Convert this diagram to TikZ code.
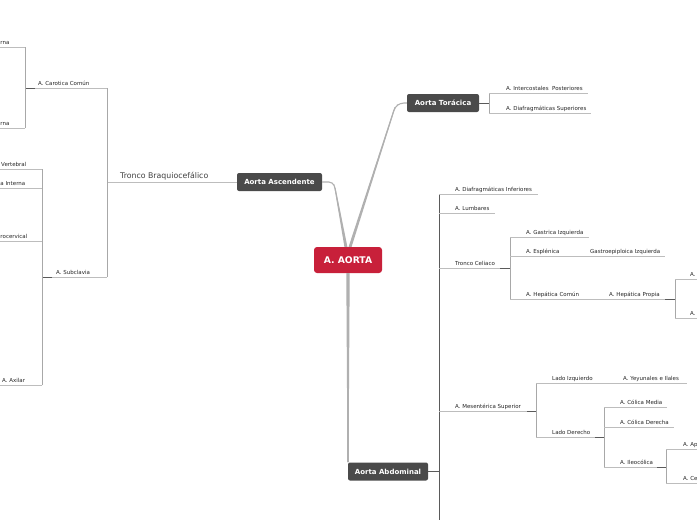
\documentclass[tikz,border=0pt]{standalone}
\usepackage{fontspec}
\setmainfont{DejaVu Sans}
\usetikzlibrary{calc,positioning}
\definecolor{hubgray}{HTML}{4A4A4A}
\definecolor{aortared}{HTML}{C8203A}
\definecolor{twiggray}{HTML}{BDBDBD}
\definecolor{stemgray}{HTML}{A8A8A8}
\definecolor{stubgray}{HTML}{5A5A5A}
\definecolor{trunkgray}{HTML}{B0B0B0}

\tikzset{
  hub/.style={rounded corners=2pt,fill=hubgray,text=white,font=\bfseries\fontsize{7}{8}\selectfont,minimum height=18pt,inner sep=2pt},
  root/.style={rounded corners=3pt,fill=aortared,text=white,font=\bfseries\fontsize{9.2}{10}\selectfont,minimum width=68pt,minimum height=26pt},
  lbl/.style={anchor=base west,inner sep=0pt,font=\fontsize{5.5}{6}\selectfont,text=black!85},
  twig/.style={draw=twiggray,line width=0.7pt},
  stem/.style={draw=stemgray,line width=0.8pt},
  stub/.style={draw=stubgray,line width=0.9pt},
  trunk/.style={draw=trunkgray,line width=1.1pt,rounded corners=4pt},
  taper/.style={fill=trunkgray},
}

\begin{document}
\begin{tikzpicture}[x=1pt,y=-1pt]
  \useasboundingbox (0,0) rectangle (697,520);
  \fill[white] (0,0) rectangle (697,520);

  % main nodes
  \node[root] (aorta) at (348,260) {A. AORTA};
  \node[hub,minimum width=85pt] (asc) at (279.5,182) {Aorta Ascendente};
  \node[hub,minimum width=72pt] (tor) at (443,103) {Aorta Torácica};
  \node[hub,minimum width=80pt] (abd) at (388,471.5) {Aorta Abdominal};

  % root connectors
  \coordinate (ab) at (335,188);
  \coordinate (tb) at (395,107);
  \draw[trunk] ($(aorta.north)+(-2,0)$) -- (ab) -- (333,182) -- (asc.east);
  \fill[taper] ($(aorta.north)+(-3.6,0)$) -- ($(aorta.north)+(-0.6,0)$) -- ($(ab)+(0.5,0)$) -- ($(ab)+(-0.5,0)$) -- cycle;
  \draw[trunk] ($(aorta.north)+(2,0)$) -- (tb) -- (400,103) -- (tor.west);
  \fill[taper] ($(aorta.north)+(0.6,0)$) -- ($(aorta.north)+(3.6,0)$) -- ($(tb)+(0.5,0)$) -- ($(tb)+(-0.5,0)$) -- cycle;
  \draw[trunk] (aorta.south) -- (aorta.south |- abd.north);
  \fill[taper] ($(aorta.south)+(-1.7,0)$) -- ($(aorta.south)+(1.7,0)$) -- ($(aorta.south |- abd.north)+(0.55,0)$) -- ($(aorta.south |- abd.north)+(-0.55,0)$) -- cycle;

  % Aorta Toracica
  \coordinate (tj) at (489,103);
  \draw[stub] (tor.east) -- (tj);
  \draw[stem] (489,93) -- (489,113);
  \draw[twig] (489,93) -- (588,93);
  \draw[twig] (489,113) -- (591,113);
  \node[lbl] (icp) at (506,90) {A. Intercostales\ \ Posteriores};
  \node[lbl] (dfs) at (506,110) {A. Diafragmáticas Superiores};

  % Aorta Abdominal
  \coordinate (aj) at (439,471.5);
  \draw[stub] (abd.east) -- (aj);
  \draw[stub,line width=0.8pt] (439,194) -- (439,520);
  \draw[twig] (439,194) -- (538,194);
  \node[lbl] (dfi) at (455,191) {A. Diafragmáticas Inferiores};
  \draw[twig] (439,213) -- (495,213);
  \node[lbl] (lum) at (455,210) {A. Lumbares};

  % Tronco Celiaco
  \draw[twig] (439,268) -- (500,268);
  \draw[stub] (500,268) -- (510,268);
  \node[lbl] (tce) at (455,265) {Tronco Celiaco};
  \draw[stem] (510,237) -- (510,299);
  \draw[twig] (510,237) -- (589,237);
  \node[lbl] (gaz) at (526,234) {A. Gastrica Izquierda};
  \draw[twig] (510,256) -- (665,256);
  \node[lbl] (esp) at (526,253) {A. Esplénica};
  \node[lbl] (gep) at (590,253) {Gastroepiploica Izquierda};
  \draw[twig] (510,299) -- (665,299);
  \draw[stub] (665,299) -- (675,299);
  \node[lbl] (hco) at (526,296) {A. Hepática Común};
  \node[lbl] (hpr) at (609,296) {A. Hepática Propia};
  \draw[stem] (675,279) -- (675,318);
  \draw[twig] (675,279) -- (697,279);
  \draw[twig] (675,318) -- (697,318);
  \node[lbl] (hp1) at (690,276) {A.};
  \node[lbl] (hp2) at (690,315) {A.};

  % Mesenterica Superior
  \draw[twig] (439,411) -- (527,411);
  \draw[stub] (527,411) -- (536,411);
  \node[lbl] (mes) at (455,408) {A. Mesentérica Superior};
  \draw[stem] (536,383) -- (536,437);
  \draw[twig] (536,383) -- (687,383);
  \node[lbl] (liz) at (552,380) {Lado Izquierdo};
  \node[lbl] (yey) at (623,380) {A. Yeyunales e Ilales};
  \draw[twig] (536,437) -- (595,437);
  \draw[stub] (595,437) -- (604,437);
  \node[lbl] (lde) at (552,434) {Lado Derecho};
  \draw[stem] (604,407) -- (604,467);
  \draw[twig] (604,407) -- (667,407);
  \node[lbl] (cme) at (620,404) {A. Cólica Media};
  \draw[twig] (604,427) -- (674,427);
  \node[lbl] (cde) at (620,424) {A. Cólica Derecha};
  \draw[twig] (604,467) -- (657,467);
  \draw[stub] (657,467) -- (666,467);
  \node[lbl] (ile) at (620,464) {A. Ileocólica};
  \draw[stem] (666,449) -- (666,483);
  \draw[twig] (666,449) -- (697,449);
  \draw[twig] (666,483) -- (697,483);
  \node[lbl] (apx) at (683,446) {A. Ap};
  \node[lbl] (cec) at (683,480) {A. Ce};

  % Aorta Ascendente
  \coordinate (bj) at (107,182);
  \draw[twig] (asc.west) -- (bj);
  \node[anchor=base west,inner sep=0pt,font=\fontsize{7.8}{9}\selectfont,text=black!75] (tbc) at (120,178.5) {Tronco Braquiocefálico};
  \draw[stem] (107,88) -- (107,277);

  % Carotida
  \draw[twig] (107,88) -- (35,88);
  \draw[stub] (35,88) -- (25,88);
  \node[lbl] (ccm) at (38,85) {A. Carotica Común};
  \draw[stem] (25,47) -- (25,128);
  \draw[twig] (25,47) -- (0,47);
  \draw[twig] (25,128) -- (0,128);
  \node[lbl] (cex) at (0.3,44) {rna};
  \node[lbl] (cin) at (0.3,125) {rna};

  % Subclavia
  \draw[twig] (107,277) -- (52,277);
  \draw[stub] (52,277) -- (42,277);
  \node[lbl] (scl) at (56,274) {A. Subclavia};
  \draw[stem] (42,169) -- (42,385);
  \draw[twig] (42,169) -- (0,169);
  \node[lbl] (vrt) at (1,166) {Vertebral};
  \draw[twig] (42,188) -- (0,188);
  \node[lbl] (mam) at (0.3,185) {a Interna};
  \draw[twig] (42,241) -- (0,241);
  \node[lbl] (tir) at (0.3,238) {rocervical};
  \draw[twig] (42,385) -- (0,385);
  \node[lbl] (axi) at (2,382) {A. Axilar};
\end{tikzpicture}
\end{document}
